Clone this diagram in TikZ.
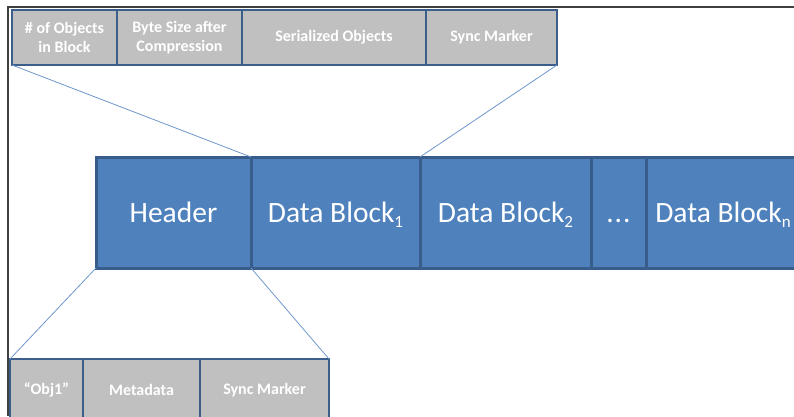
\documentclass[tikz,border=0pt]{standalone}
\usepackage{fontspec}
\setmainfont{Carlito}
\usetikzlibrary{calc}
\definecolor{blockfill}{HTML}{4F81BD}
\definecolor{blockedge}{HTML}{385D8A}
\definecolor{cellfill}{HTML}{C0C0C0}
\definecolor{celledge}{HTML}{3B5E8C}
\definecolor{linkblue}{RGB}{110,150,205}
\definecolor{framegray}{HTML}{404040}
\newcommand{\sub}[1]{\raisebox{-5pt}{\fontsize{17}{17}\selectfont #1}}

\begin{document}
\begin{tikzpicture}[x=1pt,y=1pt,
  cell/.style={draw=celledge, line width=2.5pt, fill=cellfill, text=white,
    font=\bfseries\fontsize{16}{19}\selectfont, align=center,
    anchor=north west, inner sep=0, outer sep=0},
  block/.style={draw=blockedge, line width=3pt, fill=blockfill, text=white,
    font=\fontsize{29.5}{32}\selectfont, anchor=north west,
    text height=22pt, text depth=2pt,
    inner sep=0, outer sep=0, minimum height=111pt},
  zoomline/.style={draw=linkblue, line width=0.8pt}]
\useasboundingbox (0,0) rectangle (794,416);
\clip (0,0) rectangle (794,416);
% frame
\draw[framegray, line width=2pt] (8,0) -- (8,409) -- (794,409);
% file layout
\foreach \name/\x/\w/\txt in {header/96/155/Header,
  blk1/251/169/{Data Block\sub{1}},
  blk2/420/171/{Data Block\sub{2}},
  blkn/646/154/{Data Block\sub{n}}}
  \node[block, minimum width=\w pt] (\name) at (\x,259) {\txt};
\node[block, minimum width=55pt] (dots) at (591,259) {.\kern1pt.\kern1pt.};
% one data block
\foreach \name/\x/\w/\txt in {objcount/12/105/{\# of Objects\\in Block},
  bytesize/117/125/{Byte Size after\\Compression},
  serobj/242/184/{Serialized Objects},
  synctop/426/131/{Sync Marker}}
  \node[cell, minimum width=\w pt, minimum height=55pt] (\name) at (\x,406) {\txt};
% the header
\foreach \name/\x/\w/\txt in {objname/10/73/{“Obj1”},
  meta/83/117/{Metadata},
  syncbot/200/129/{Sync Marker}}
  \node[cell, minimum width=\w pt, minimum height=62pt] (\name) at (\x,57) {\txt};
% zoom lines
\draw[zoomline] (objcount.south west) -- (blk1.north west);
\draw[zoomline] (synctop.south east) -- (blk1.north east);
\draw[zoomline] (header.south west) -- (objname.north west);
\draw[zoomline] (header.south east) -- (syncbot.north east);
\end{tikzpicture}
\end{document}
